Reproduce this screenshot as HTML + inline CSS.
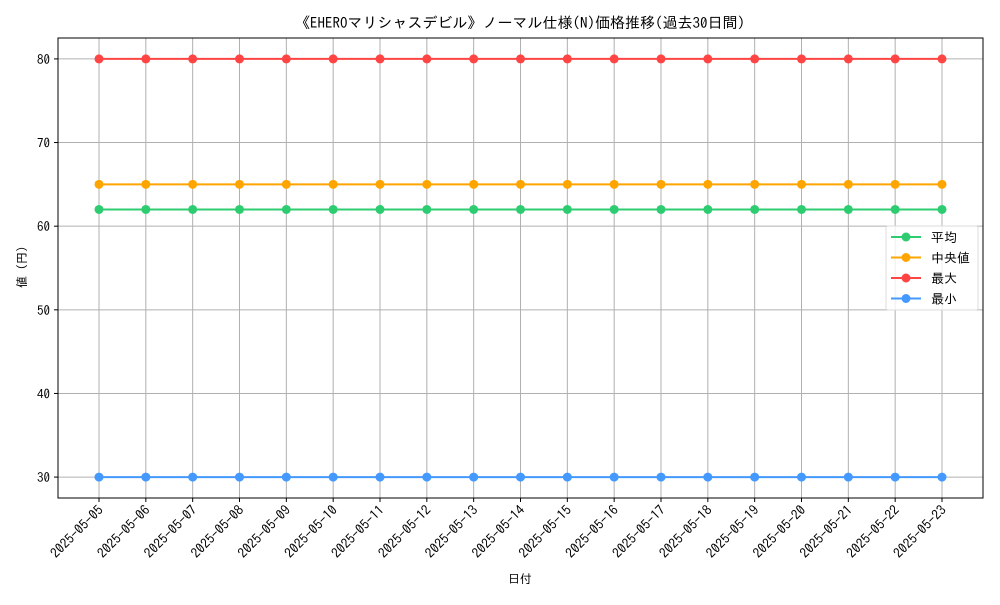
<!DOCTYPE html>
<html><head><meta charset="utf-8"><style>
body{margin:0;background:#fff}
svg{font-family:"IPAGothic","Noto Sans CJK JP",sans-serif;}
</style></head><body>
<svg id="c" width="1000" height="600" xmlns="http://www.w3.org/2000/svg">
<rect width="1000" height="600" fill="#fff"/>
<text x="520" y="28" font-size="15" text-anchor="middle">《EHEROマリシャスデビル》ノーマル仕様(N)価格推移(過去30日間)</text>
<g id="grid"></g><g id="series"></g><g id="axes"></g>
<text x="520" y="583" font-size="12" text-anchor="middle">日付</text>
<text transform="translate(26,267) rotate(-90)" font-size="12" text-anchor="middle">値 (円)</text>
<g>
<rect x="886" y="226" width="92" height="84" fill="#fff" fill-opacity="0.8" stroke="#ddd" rx="2"/>
<g id="leg"></g>
</g>
</svg>
<script>
const dates=["2025-05-05","2025-05-06","2025-05-07","2025-05-08","2025-05-09","2025-05-10","2025-05-11","2025-05-12","2025-05-13","2025-05-14","2025-05-15","2025-05-16","2025-05-17","2025-05-18","2025-05-19","2025-05-20","2025-05-21","2025-05-22","2025-05-23"];
const avgVals=[62,62,62,62,62,62,62,62,62,62,62,62,62,62,62,62,62,62,62];
const medVals=[65,65,65,65,65,65,65,65,65,65,65,65,65,65,65,65,65,65,65];
const maxVals=[80,80,80,80,80,80,80,80,80,80,80,80,80,80,80,80,80,80,80];
const minVals=[30,30,30,30,30,30,30,30,30,30,30,30,30,30,30,30,30,30,30];
const yTicks=[30,40,50,60,70,80];
const seriesNames=["平均","中央値","最大","最小"];
const NS="http://www.w3.org/2000/svg";
const L=58,R=983,T=38,B=498;
const all=[].concat(avgVals,medVals,maxVals,minVals);
const mn=Math.min(...all),mx=Math.max(...all),pad=(mx-mn)*0.05||1;
const y0=mn-pad,y1=mx+pad;
const n=dates.length,xp=41;
const xs=i=>L+xp+(n>1?i*(R-L-2*xp)/(n-1):0);
const ys=v=>B-(v-y0)/(y1-y0)*(B-T);
function mk(t,a,p){const e=document.createElementNS(NS,t);for(const k in a)e.setAttribute(k,a[k]);p.appendChild(e);return e;}
const grid=document.getElementById('grid'),axes=document.getElementById('axes'),ser=document.getElementById('series');
dates.forEach((d,i)=>{
 const x=xs(i);
 const g=mk('line',{x1:x,x2:x,y1:T,y2:B,stroke:'#b0b0b0','stroke-width':1},grid);
 
 
 const tk=mk('line',{x1:x,x2:x,y1:B,y2:B+4,stroke:'#000'},axes);
 
 
 const t=mk('text',{'font-size':13.5,'text-anchor':'end',transform:`translate(${x+5},${B+13}) rotate(-45)`},axes);
 t.textContent=d;
 
 
});
yTicks.forEach(v=>{
 const y=ys(v);
 const g=mk('line',{x1:L,x2:R,y1:y,y2:y,stroke:'#b0b0b0','stroke-width':1},grid);
 
 
 const tk=mk('line',{x1:L-4,x2:L,y1:y,y2:y,stroke:'#000'},axes);
 
 
 const t=mk('text',{x:L-8,y:y+5,'font-size':13,'text-anchor':'end'},axes);
 t.textContent=v;
 
 
});
const fr=mk('rect',{x:L,y:T,width:R-L,height:B-T,fill:'none',stroke:'#000','stroke-width':1},axes);


const colors=['#2ecc71','#ffa500','#ff4444','#4499ff'];
const data=[avgVals,medVals,maxVals,minVals];
const keys=['avg','median','max','min'];
data.forEach((vals,s)=>{
 const g=mk('g',{},ser);
 
 
 const pl=mk('polyline',{points:vals.map((v,i)=>xs(i)+','+ys(v)).join(' '),fill:'none',stroke:colors[s],'stroke-width':2},g);
 
 
 vals.forEach((v,i)=>{
  const c=mk('circle',{cx:xs(i),cy:ys(v),r:4.5,fill:colors[s]},g);
  
  
 });
});
const leg=document.getElementById('leg');
seriesNames.forEach((nm,s)=>{
 const y=237+s*20.5;
 const g=mk('g',{},leg);
 
 
 mk('line',{x1:891,x2:921,y1:y,y2:y,stroke:colors[s],'stroke-width':2},g);
 mk('circle',{cx:906,cy:y,r:4.5,fill:colors[s]},g);
 const t=mk('text',{x:931,y:y+5,'font-size':13},g);
 t.textContent=nm;
});
</script>
</body></html>
